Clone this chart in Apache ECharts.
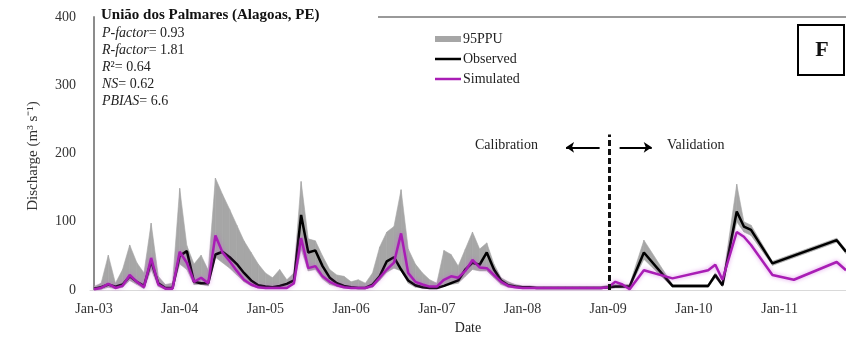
<!DOCTYPE html>
<html>
<head>
<meta charset="utf-8">
<script src="https://cdn.jsdelivr.net/npm/echarts@6/dist/echarts.min.js"></script>
<style>
  html, body { margin: 0; padding: 0; background: #fff; }
  #chart { width: 846px; height: 340px; }
</style>
</head>
<body>
<div id="chart"></div>
<script>
// calibration period, one value per month starting Jan-03 (month 0)
const calObs = [2, 4, 8, 5, 8, 20, 12, 6, 42, 10, 3, 3,
  50, 57, 12, 10, 10, 52, 56, 48, 38, 25, 14, 7,
  5, 4, 6, 9, 14, 110, 55, 58, 35, 18, 10, 6,
  4, 3, 3, 8, 20, 42, 48, 30, 14, 7, 4, 3,
  3, 6, 10, 14, 30, 40, 37, 55, 30, 14, 7, 5,
  4, 4, 3, 3, 3, 3, 3, 3, 3, 3, 3, 3];
const calSim = [1, 3, 9, 3, 6, 22, 12, 4, 47, 8, 2, 2,
  56, 40, 12, 18, 10, 80, 55, 42, 28, 15, 8, 4,
  3, 3, 3, 3, 10, 76, 32, 35, 20, 12, 7, 4,
  3, 3, 3, 6, 18, 30, 40, 83, 25, 12, 8, 5,
  5, 15, 20, 18, 28, 44, 33, 32, 22, 12, 6, 4,
  3, 3, 3, 3, 3, 3, 3, 3, 3, 3, 3, 3];
const calLow = [0, 1, 4, 2, 4, 14, 8, 2, 30, 5, 1, 1,
  38, 30, 8, 8, 6, 48, 40, 32, 22, 12, 6, 3,
  2, 2, 2, 3, 8, 60, 28, 30, 16, 8, 5, 3,
  2, 2, 2, 4, 14, 26, 32, 28, 10, 4, 3, 2,
  2, 5, 8, 10, 20, 30, 28, 28, 18, 8, 4, 3,
  2, 2, 2, 2, 2, 2, 2, 2, 2, 2, 2, 2];
const calHigh = [5, 10, 51, 10, 30, 66, 40, 25, 98, 20, 8, 10,
  149, 65, 38, 51, 29, 164, 140, 118, 95, 72, 55, 38,
  25, 18, 30, 15, 25, 159, 75, 72, 50, 30, 22, 20,
  12, 15, 10, 25, 63, 85, 93, 147, 60, 38, 25, 15,
  10, 58, 52, 35, 60, 85, 60, 69, 38, 18, 12, 8,
  6, 6, 5, 5, 5, 5, 5, 5, 5, 5, 5, 5];

// validation period, sparse observations (month index from Jan-03)
const valMonths = [72, 73, 74, 75, 77, 81, 86, 87, 88, 90, 91, 92, 95, 98, 104, 105.3];
const valObs = [4, 5, 5, 5, 55, 6, 6, 22, 7, 115, 93, 88, 39, null, 73, 56];
const valSim = [4, 12, 8, 1, 29, 17, 29, 37, 15, 85, 78, 66, 22, 15, 41, 29];
const bandValMonths = [72, 73, 74, 75, 77, 81, 86, 87, 88, 90, 91, 92, 95, 104, 105.3];
const bandValLow = [2, 3, 3, 3, 45, 4, 4, 18, 5, 100, 85, 80, 36, 70, 53];
const bandValHigh = [7, 8, 8, 8, 73, 8, 8, 25, 9, 155, 100, 95, 42, 76, 59];

const xTickLabels = ["Jan-03", "Jan-04", "Jan-05", "Jan-06", "Jan-07", "Jan-08", "Jan-09", "Jan-10", "Jan-11"];
const yTicks = [0, 100, 200, 300, 400];

const serif = "Liberation Serif";
const grey = "#a6a6a6";
const purple = "#a91db5";

const pairs = (xs, ys) => xs.map((x, i) => [x, ys[i]]);
const calMonths = calObs.map((v, i) => i);

const obsData = pairs(calMonths, calObs).concat(pairs(valMonths, valObs));
const simData = pairs(calMonths, calSim).concat(pairs(valMonths, valSim));
const bandX = calMonths.concat(bandValMonths);
const bandLow = calLow.concat(bandValLow);
const bandHigh = calHigh.concat(bandValHigh);
// one quad per segment of the uncertainty band
const bandSegs = bandX.slice(0, -1).map((x, i) => [x, bandLow[i], bandHigh[i], bandX[i + 1], bandLow[i + 1], bandHigh[i + 1]]);

function renderBand(params, api) {
  const a = api.coord([api.value(0), api.value(1)]);
  const b = api.coord([api.value(3), api.value(4)]);
  const c = api.coord([api.value(3), api.value(5)]);
  const d = api.coord([api.value(0), api.value(2)]);
  return {
    type: "polygon",
    shape: { points: [a, b, c, d] },
    style: { fill: grey, stroke: grey, lineWidth: 0.6 },
  };
}

const chart = echarts.init(document.getElementById("chart"));
const option = {
  animation: false,
  grid: { left: 90, right: 0, top: 17, bottom: 50 },
  legend: {
    orient: "vertical",
    left: 430,
    top: 27,
    itemWidth: 26,
    itemHeight: 12,
    itemGap: 6,
    selectedMode: false,
    textStyle: { fontFamily: serif, fontSize: 14, color: "#222", padding: [0, 0, 0, -3] },
    data: [
      { name: "95PPU", icon: "path://M0,0H26V6H0Z", itemStyle: { color: grey } },
      { name: "Observed", icon: "path://M0,0H26V2.5H0Z", itemStyle: { color: "#000" } },
      { name: "Simulated", icon: "path://M0,0H26V2.5H0Z", itemStyle: { color: purple } },
    ],
  },
  xAxis: {
    type: "value",
    min: -0.56,
    max: 105.3,
    name: "Date",
    nameLocation: "middle",
    nameGap: 30,
    nameTextStyle: { fontFamily: serif, fontSize: 14, color: "#222" },
    axisLine: { show: true, lineStyle: { color: "#d9d9d9", width: 1 } },
    axisTick: { show: false },
    splitLine: { show: false },
    axisLabel: {
      customValues: xTickLabels.map((t, i) => i * 12),
      formatter: (v) => xTickLabels[Math.round(v / 12)],
      fontFamily: serif,
      fontSize: 14,
      color: "#333",
      margin: 12,
    },
  },
  yAxis: {
    type: "value",
    min: yTicks[0],
    max: yTicks[yTicks.length - 1],
    interval: 100,
    axisLine: { show: true, lineStyle: { color: "#8c8c8c", width: 2 } },
    axisTick: { show: false },
    splitLine: { show: false },
    axisLabel: { fontFamily: serif, fontSize: 14, color: "#333", margin: 14 },
  },
  graphic: [
    // top frame line (left part hidden behind the title)
    { type: "line", shape: { x1: 378, y1: 17, x2: 846, y2: 17 }, style: { stroke: "#777", lineWidth: 1.5 }, silent: true },
    {
      type: "text", left: 101, top: 8,
      style: { text: "União dos Palmares (Alagoas, PE)", font: "bold 15px 'Liberation Serif'", fill: "#111" },
    },
    {
      type: "text", left: 102, top: 26,
      style: {
        text: "{i|P-factor}{n|= 0.93}\n{i|R-factor}{n|= 1.81}\n{i|R}{n|²= 0.64}\n{i|NS}{n|= 0.62}\n{i|PBIAS}{n|= 6.6}",
        rich: {
          i: { fontFamily: serif, fontStyle: "italic", fontSize: 14, lineHeight: 17, fill: "#222" },
          n: { fontFamily: serif, fontSize: 14, lineHeight: 17, fill: "#222" },
        },
      },
    },
    {
      type: "text", x: 33, y: 156, rotation: Math.PI / 2,
      style: { text: "Discharge (m³ s⁻¹)", font: "15px 'Liberation Serif'", fill: "#333", align: "center", verticalAlign: "middle" },
    },
    { type: "rect", shape: { x: 798, y: 25, width: 46, height: 50 }, style: { fill: "#fff", stroke: "#000", lineWidth: 2 } },
    {
      type: "text", x: 822, y: 50,
      style: { text: "F", font: "bold 22px 'Liberation Serif'", fill: "#111", align: "center", verticalAlign: "middle" },
    },
    {
      type: "text", x: 475, y: 145,
      style: { text: "Calibration", font: "14px 'Liberation Serif'", fill: "#222", verticalAlign: "middle" },
    },
    {
      type: "text", x: 667, y: 145,
      style: { text: "Validation", font: "14px 'Liberation Serif'", fill: "#222", verticalAlign: "middle" },
    },
  ],
  series: [
    {
      name: "95PPU",
      type: "custom",
      renderItem: renderBand,
      data: bandSegs,
      encode: { x: [0, 3], y: [1, 2, 4, 5] },
      itemStyle: { color: grey },
      silent: true,
      z: 1,
    },
    {
      name: "Observed",
      type: "line",
      symbol: "none",
      connectNulls: true,
      data: obsData,
      itemStyle: { color: "#000" },
      lineStyle: { color: "#000", width: 2.5 },
      z: 3,
      markLine: {
        silent: true,
        animation: false,
        label: { show: false },
        data: [
          [
            { coord: [72.2, 0], symbol: "none", lineStyle: { type: [6, 3], color: "#111", width: 3 } },
            { coord: [72.2, 228], symbol: "none" },
          ],
          [
            { coord: [70.8, 209], symbol: "none", lineStyle: { type: "solid", color: "#000", width: 2 } },
            { coord: [66.1, 209], symbol: "arrow", symbolSize: 8 },
          ],
          [
            { coord: [73.6, 209], symbol: "none", lineStyle: { type: "solid", color: "#000", width: 2 } },
            { coord: [78.1, 209], symbol: "arrow", symbolSize: 8 },
          ],
        ],
      },
    },
    {
      name: "Simulated",
      type: "line",
      symbol: "none",
      data: simData,
      itemStyle: { color: purple },
      lineStyle: { color: purple, width: 2.5, shadowColor: "rgba(200, 80, 220, 0.6)", shadowBlur: 4 },
      z: 4,
    },
  ],
};
chart.setOption(option);
</script>
</body>
</html>
